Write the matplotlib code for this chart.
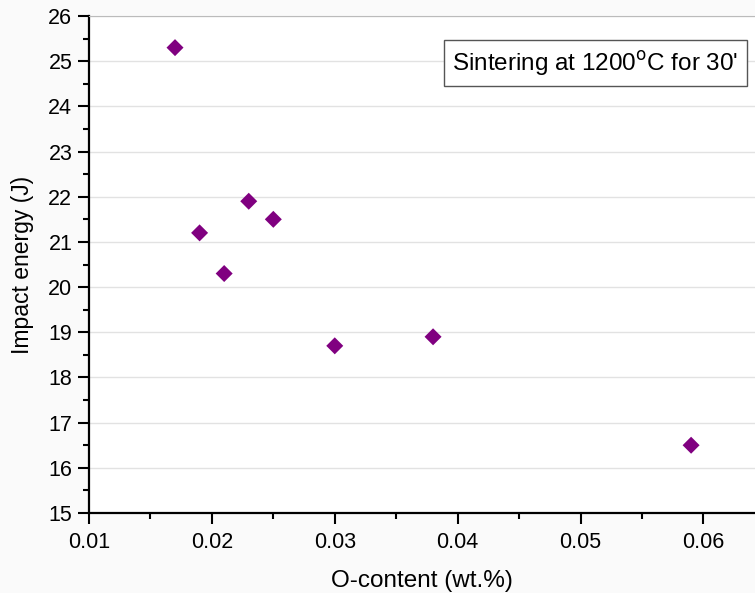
import matplotlib
matplotlib.use("Agg")
import matplotlib.pyplot as plt
from matplotlib.ticker import MultipleLocator

# O-content (wt.%) vs impact energy (J)
o_content = [0.017, 0.019, 0.021, 0.023, 0.025, 0.030, 0.038, 0.059]
impact_energy = [25.3, 21.2, 20.3, 21.9, 21.5, 18.7, 18.9, 16.5]

plt.rcParams['font.family'] = ['Liberation Sans', 'DejaVu Sans']

fig = plt.figure(figsize=(7.55, 5.93), dpi=100, facecolor='#fafafa')
ax = fig.add_axes([89 / 755, 80 / 593, 1 - 89 / 755, 497 / 593])
ax.set_facecolor('white')

ax.scatter(o_content, impact_energy, marker='D', s=75, color='#800080',
           edgecolors='none', zorder=3)

ax.set_xlim(0.01, 0.0642)
ax.set_ylim(15, 26)
ax.xaxis.set_major_locator(MultipleLocator(0.01))
ax.xaxis.set_minor_locator(MultipleLocator(0.005))
ax.yaxis.set_major_locator(MultipleLocator(1))
ax.yaxis.set_minor_locator(MultipleLocator(0.5))
ax.xaxis.set_major_formatter(plt.FuncFormatter(lambda v, p: f"{v:.2f}"))

ax.grid(True, which='major', axis='y', color='#e2e2e2', linewidth=1)
ax.set_axisbelow(True)

ax.spines['right'].set_visible(False)
ax.spines['top'].set_color('#bbbbbb')
for s in ('left', 'bottom'):
    ax.spines[s].set_linewidth(1.6)
ax.tick_params(which='major', direction='out', length=8, width=1.5,
               labelsize=15.5, colors='black')
ax.tick_params(which='minor', direction='out', length=4.5, width=1.5)
ax.tick_params(axis='x', pad=6)
ax.tick_params(axis='y', pad=4)

ax.set_xlabel('O-content (wt.%)', fontsize=17.5, labelpad=12)
ax.set_ylabel('Impact energy (J)', fontsize=16.5, labelpad=10)

ax.text(0.975, 0.905, "Sintering at 1200$^{\\rm o}$C for 30'", transform=ax.transAxes,
        ha='right', va='center', fontsize=17.5,
        bbox=dict(boxstyle='square,pad=0.35', facecolor='white',
                  edgecolor='#555555', linewidth=1))

fig.savefig('out.png', dpi=100, facecolor=fig.get_facecolor())
